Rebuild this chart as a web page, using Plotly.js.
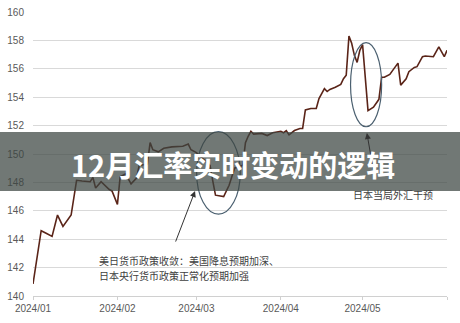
<!DOCTYPE html>
<html>
<head>
<meta charset="utf-8">
<script src="https://cdn.plot.ly/plotly-3.0.1.min.js"></script>
<style>
  html, body { margin: 0; padding: 0; background: #ffffff; }
  #chart { width: 460px; height: 323px; }
</style>
</head>
<body>
<div id="chart"></div>
<script>
// USD/JPY daily path, Jan–May 2024
const dates = [
  '2024-01-01','2024-01-04','2024-01-06','2024-01-08','2024-01-10','2024-01-12','2024-01-15',
  '2024-01-17','2024-01-19','2024-01-22','2024-01-23','2024-01-24','2024-01-26','2024-01-29',
  '2024-01-30','2024-02-01','2024-02-02','2024-02-04','2024-02-06','2024-02-08','2024-02-09',
  '2024-02-12','2024-02-13','2024-02-14','2024-02-16','2024-02-18','2024-02-21','2024-02-25',
  '2024-02-27','2024-02-28','2024-03-01','2024-03-04','2024-03-06','2024-03-07','2024-03-08',
  '2024-03-11','2024-03-12','2024-03-13','2024-03-14','2024-03-15','2024-03-18','2024-03-19',
  '2024-03-20','2024-03-21','2024-03-22','2024-03-25','2024-03-27','2024-03-29','2024-04-01',
  '2024-04-02','2024-04-03','2024-04-04','2024-04-06','2024-04-08','2024-04-09','2024-04-10',
  '2024-04-12','2024-04-14','2024-04-15','2024-04-17','2024-04-18','2024-04-19','2024-04-21',
  '2024-04-23','2024-04-24','2024-04-25','2024-04-26','2024-04-27','2024-04-28','2024-04-29',
  '2024-04-30','2024-05-01','2024-05-03','2024-05-05','2024-05-07','2024-05-08','2024-05-09',
  '2024-05-11','2024-05-12','2024-05-14','2024-05-15','2024-05-17','2024-05-18','2024-05-20',
  '2024-05-21','2024-05-23','2024-05-24','2024-05-27','2024-05-29','2024-05-31','2024-06-01'
];
const usdjpy = [
  140.85,144.6,144.4,144.2,145.7,144.9,145.7,
  148.15,148.1,148.05,148.35,147.6,148.05,147.5,
  147.4,146.45,148.4,148.6,147.9,148.3,149.2,
  149.3,150.8,150.3,150.15,150.4,150.5,150.55,
  150.7,150.3,150.1,149.6,149.2,148.1,147.1,
  147.0,147.4,147.8,148.4,149.0,149.2,150.8,
  151.25,151.6,151.4,151.45,151.3,151.5,151.6,
  151.5,151.65,151.35,151.65,151.8,151.8,153.1,
  153.2,153.2,153.9,154.6,154.4,154.55,154.7,
  154.9,155.3,155.55,158.3,157.8,156.95,156.45,
  157.3,157.7,153.05,153.3,153.85,155.4,155.4,
  155.6,155.87,156.4,154.85,155.3,155.8,156.1,
  156.15,156.85,156.9,156.85,157.55,156.85,157.3
];

const monthTicks = ['2024-01-01','2024-02-01','2024-03-01','2024-04-01','2024-05-01','2024-06-01'];
const monthLabels = ['2024/01','2024/02','2024/03','2024/04','2024/05',''];
const yTicks = [140,142,144,146,148,150,152,154,156,158,160];

const headline = '12月汇率实时变动的逻辑';
const noteConvergeLine1 = '美日货币政策收敛：美国降息预期加深、';
const noteConvergeLine2 = '日本央行货币政策正常化预期加强';
const noteIntervene = '日本当局外汇干预';

const axisFont = { family: 'Liberation Sans, Arial, sans-serif', size: 10, color: '#595959' };
const noteFont = { family: 'Noto Sans CJK SC, sans-serif', size: 10, color: '#404040' };

const trace = {
  type: 'scatter',
  mode: 'lines',
  x: dates,
  y: usdjpy,
  line: { color: '#5a2418', width: 1.6 },
  hoverinfo: 'skip'
};

const layout = {
  width: 460,
  height: 323,
  margin: { l: 33, r: 13, t: 12, b: 27 },
  paper_bgcolor: '#ffffff',
  plot_bgcolor: '#ffffff',
  showlegend: false,
  xaxis: {
    type: 'date',
    range: ['2024-01-01', '2024-06-01'],
    tickmode: 'array',
    tickvals: monthTicks,
    ticktext: monthLabels,
    showgrid: false,
    zeroline: false,
    showline: true,
    linecolor: '#d0d0d0',
    linewidth: 1,
    ticks: 'outside',
    ticklen: 3,
    tickcolor: '#d0d0d0',
    tickfont: axisFont
  },
  yaxis: {
    range: [140, 160],
    tickmode: 'array',
    tickvals: yTicks,
    showgrid: true,
    gridcolor: '#d9d9d9',
    gridwidth: 1,
    zeroline: false,
    showline: false,
    ticks: '',
    ticklabelstandoff: 8,
    tickfont: axisFont
  },
  shapes: [
    // policy-convergence dip in March
    { type: 'circle', xref: 'x', yref: 'y',
      x0: '2024-03-01 02:00', x1: '2024-03-17 02:00', y0: 145.77, y1: 151.57,
      line: { color: '#4b6070', width: 1.2 } },
    // intervention drop in early May
    { type: 'circle', xref: 'x', yref: 'y',
      x0: '2024-04-26 14:00', x1: '2024-05-08', y0: 151.92, y1: 157.84,
      line: { color: '#4b6070', width: 1.2 } },
    // headline band
    { type: 'rect', xref: 'paper', yref: 'paper',
      x0: -0.08, x1: 1.04, y0: 0.3697, y1: 0.5775,
      fillcolor: 'rgba(60,70,66,0.73)', line: { width: 0 }, layer: 'above' }
  ],
  annotations: [
    { xref: 'x', yref: 'y', x: '2024-02-29 12:00', y: 147.39,
      ax: -20, ay: 52, showarrow: true, arrowhead: 2, arrowsize: 1.2,
      arrowwidth: 1, arrowcolor: '#333333', text: '' },
    { xref: 'x', yref: 'y', x: '2024-05-02 14:00', y: 151.48,
      ax: 8, ay: 46, showarrow: true, arrowhead: 2, arrowsize: 1.2,
      arrowwidth: 1, arrowcolor: '#333333', text: '' },
    { xref: 'x', yref: 'y', x: '2024-01-24 12:00', y: 142.50,
      xanchor: 'left', yanchor: 'middle', align: 'left', showarrow: false,
      text: noteConvergeLine1, font: noteFont },
    { xref: 'x', yref: 'y', x: '2024-01-24 12:00', y: 141.47,
      xanchor: 'left', yanchor: 'middle', align: 'left', showarrow: false,
      text: noteConvergeLine2, font: noteFont },
    { xref: 'x', yref: 'y', x: '2024-05-12 05:00', y: 147.15,
      xanchor: 'center', yanchor: 'middle', showarrow: false,
      text: noteIntervene, font: noteFont },
    { xref: 'paper', yref: 'paper', x: 0.482, y: 0.4648,
      xanchor: 'center', yanchor: 'middle', showarrow: false,
      text: headline,
      font: { family: 'Noto Sans CJK SC, sans-serif', size: 29, color: '#ffffff', weight: 'bold' } }
  ]
};

Plotly.newPlot('chart', [trace], layout, { staticPlot: true, displayModeBar: false });
</script>
</body>
</html>
